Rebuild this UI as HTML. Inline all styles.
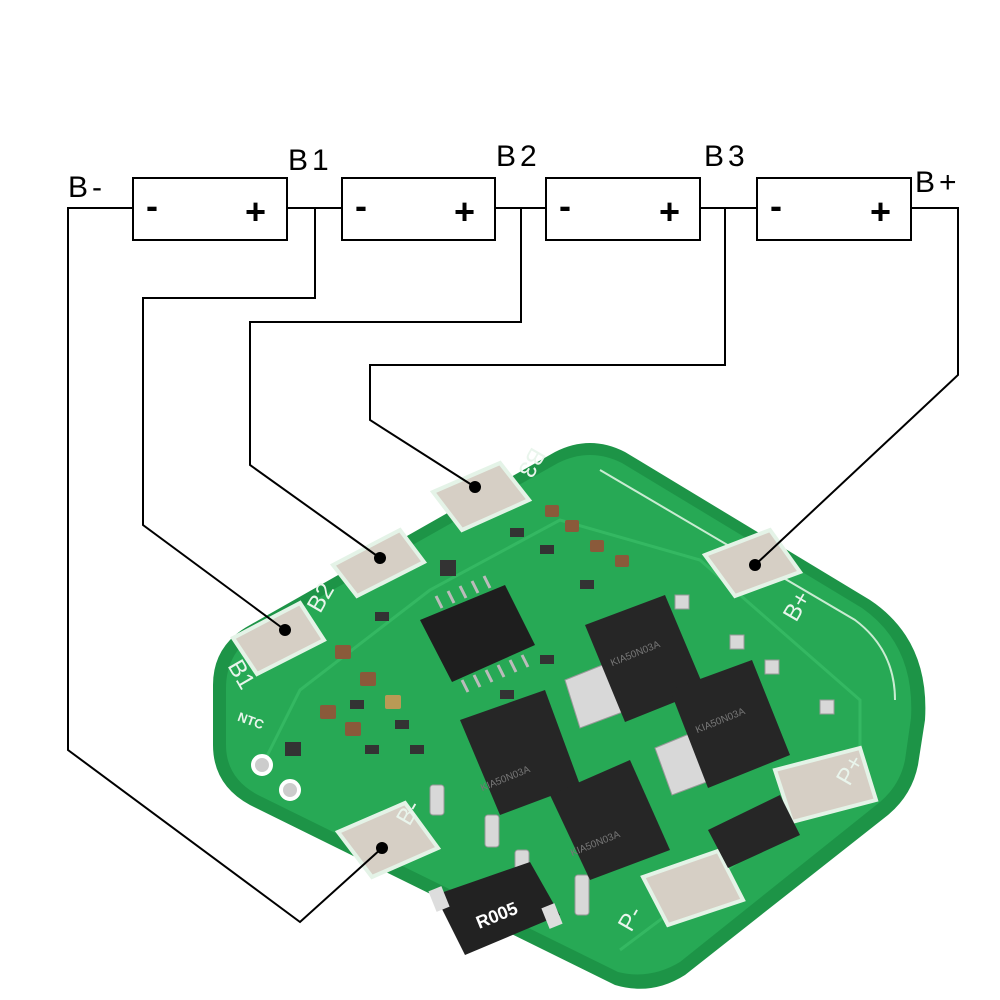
<!DOCTYPE html>
<html><head><meta charset="utf-8"><style>
html,body{margin:0;padding:0;background:#fff;}
svg{display:block}
text{font-family:"Liberation Sans",sans-serif;}
</style></head><body>
<svg width="1000" height="1000" viewBox="0 0 1000 1000">
<!-- PCB board -->
<path d="M250,625 L555,452 Q590,434 625,452 L870,600 Q930,640 925,720 L918,765 Q912,795 888,815 L685,975 Q652,996 615,985 L250,805 Q213,785 213,745 L213,685 Q213,645 250,625 Z" fill="#1d9447"/>
<path d="M258,632 L558,463 Q590,447 622,463 L862,608 Q915,645 911,718 L905,760 Q900,785 880,802 L680,962 Q650,980 618,972 L258,795 Q226,778 226,745 L226,688 Q226,652 258,632 Z" fill="#27a955"/>
<path d="M600,470 L855,620 Q895,650 895,700" stroke="#c9ecd2" stroke-width="2" fill="none"/>
<path d="M265,760 L300,690 L430,590 L560,520 L700,560 L860,700 L860,770 L700,890 L620,950" stroke="#34b862" stroke-width="3" fill="none"/>
<!-- pads -->
<g fill="#d6cfc5" stroke="#e4f3e7" stroke-width="4">
<polygon points="433,492 500,463 529,500 462,530"/>
<polygon points="333,565 400,530 424,562 357,596"/>
<polygon points="233,638 300,603 324,640 257,674"/>
<polygon points="705,555 770,530 800,572 735,596"/>
<polygon points="338,832 405,803 438,848 372,877"/>
<polygon points="775,770 860,748 876,800 792,822"/>
<polygon points="643,877 718,851 743,900 668,925"/>
</g>
<!-- IC -->
<polygon points="420,620 505,585 535,645 452,682" fill="#1e1e1e"/>
<g stroke="#bbb" stroke-width="3">
<path d="M490,588 l-6,-12 M478,593 l-6,-12 M466,598 l-6,-12 M454,603 l-6,-12 M442,608 l-6,-12"/>
<path d="M462,680 l6,12 M474,675 l6,12 M486,670 l6,12 M498,665 l6,12 M510,660 l6,12 M522,655 l6,12"/>
</g>
<!-- MOSFET tabs -->
<g fill="#d8d8d8" stroke="#999" stroke-width="1">
<polygon points="565,680 640,650 655,700 580,728"/>
<polygon points="655,748 735,715 752,765 672,795"/>
<rect x="430" y="785" width="14" height="30" rx="3"/><rect x="485" y="815" width="14" height="32" rx="3"/>
<rect x="515" y="850" width="14" height="30" rx="3"/><rect x="575" y="875" width="14" height="40" rx="3"/>
<rect x="675" y="595" width="14" height="14"/><rect x="730" y="635" width="14" height="14"/>
<rect x="765" y="660" width="14" height="14"/><rect x="820" y="700" width="14" height="14"/>
</g>
<!-- MOSFETs -->
<g fill="#262626">
<polygon points="585,625 665,595 705,690 625,722"/>
<polygon points="670,690 752,660 790,755 708,788"/>
<polygon points="460,720 545,690 580,785 500,815"/>
<polygon points="550,795 630,760 670,850 590,880"/>
</g>
<g fill="#777" font-size="10" font-family="Liberation Mono,monospace">
<text x="610" y="655" transform="rotate(-22 640 655)">KIA50N03A</text>
<text x="695" y="722" transform="rotate(-22 725 722)">KIA50N03A</text>
<text x="480" y="780" transform="rotate(-22 510 780)">KIA50N03A</text>
<text x="570" y="845" transform="rotate(-22 600 845)">KIA50N03A</text>
</g>
<!-- U2 -->
<polygon points="708,830 780,795 800,835 728,868" fill="#262626"/>
<!-- resistor -->
<polygon points="435,895 530,862 560,915 465,955" fill="#222"/>
<rect x="432" y="888" width="14" height="22" fill="#ddd" transform="rotate(-22 439 899)"/>
<rect x="545" y="905" width="14" height="22" fill="#ddd" transform="rotate(-22 552 916)"/>
<text x="475" y="922" font-size="18" font-weight="bold" fill="#fff" transform="rotate(-22 495 915)">R005</text>
<!-- small parts -->
<g fill="#333">
<rect x="510" y="528" width="14" height="9"/><rect x="540" y="545" width="14" height="9"/>
<rect x="580" y="580" width="14" height="9"/><rect x="375" y="612" width="14" height="9"/>
<rect x="540" y="655" width="14" height="9"/><rect x="500" y="690" width="14" height="9"/>
<rect x="350" y="700" width="14" height="9"/><rect x="395" y="720" width="14" height="9"/>
<rect x="410" y="745" width="14" height="9"/><rect x="365" y="745" width="14" height="9"/>
<rect x="285" y="742" width="16" height="14"/><rect x="440" y="560" width="16" height="16"/>
</g>
<g fill="#8a5a3a">
<rect x="565" y="520" width="14" height="12" rx="2"/><rect x="590" y="540" width="14" height="12" rx="2"/>
<rect x="615" y="555" width="14" height="12" rx="2"/><rect x="545" y="505" width="14" height="12" rx="2"/>
<rect x="335" y="645" width="16" height="14" rx="2"/><rect x="360" y="672" width="16" height="14" rx="2"/>
<rect x="320" y="705" width="16" height="14" rx="2"/><rect x="345" y="722" width="16" height="14" rx="2"/>
<rect x="385" y="695" width="16" height="14" rx="2" fill="#b99a55"/>
</g>
<g fill="#ccc" stroke="#fff" stroke-width="4"><circle cx="262" cy="765" r="9"/><circle cx="290" cy="790" r="9"/></g>
<text x="237" y="725" font-size="13" font-weight="bold" fill="#e9f5ec" transform="rotate(20 250 722)">NTC</text>
<!-- board labels -->
<g fill="#e9f5ec" font-size="24">
<text x="515" y="468" transform="rotate(120 530 462)">B3</text>
<text x="305" y="608" transform="rotate(-60 318 598)">B2</text>
<text x="228" y="680" transform="rotate(60 240 672)">B1</text>
<text x="780" y="615" transform="rotate(-60 795 605)">B+</text>
<text x="835" y="778" transform="rotate(-60 850 770)">P+</text>
<text x="395" y="818" transform="rotate(-60 410 810)">B-</text>
<text x="615" y="925" transform="rotate(-60 630 915)">P-</text>
</g>
<!-- wires -->
<g fill="none" stroke="#000" stroke-width="2">
<path d="M133,208 H68 V750 L300,922 L382,848"/>
<path d="M287,208 H342 M315,208 V298 H143 V525 L285,630"/>
<path d="M495,208 H546 M521,208 V322 H250 V465 L380,558"/>
<path d="M700,208 H757 M725,208 V365 H370 V420 L475,487"/>
<path d="M911,208 H958 V375 L755,565"/>
</g>
<g fill="#000"><circle cx="382" cy="848" r="6"/><circle cx="285" cy="630" r="6"/><circle cx="380" cy="558" r="6"/><circle cx="475" cy="487" r="6"/><circle cx="755" cy="565" r="6"/></g>
<!-- batteries -->
<g fill="#fff" stroke="#000" stroke-width="2">
<rect x="133" y="178" width="154" height="62"/>
<rect x="342" y="178" width="153" height="62"/>
<rect x="546" y="178" width="154" height="62"/>
<rect x="757" y="178" width="154" height="62"/>
</g>
<g font-size="36" font-weight="bold" fill="#000">
<text x="146" y="218">-</text><text x="245" y="224">+</text>
<text x="355" y="218">-</text><text x="454" y="224">+</text>
<text x="559" y="218">-</text><text x="659" y="224">+</text>
<text x="770" y="218">-</text><text x="870" y="224">+</text>
</g>
<g font-size="30" fill="#000" letter-spacing="4">
<text x="68" y="197">B-</text>
<text x="288" y="170">B1</text>
<text x="496" y="166">B2</text>
<text x="704" y="166">B3</text>
<text x="915" y="192">B+</text>
</g>
</svg>
</body></html>
